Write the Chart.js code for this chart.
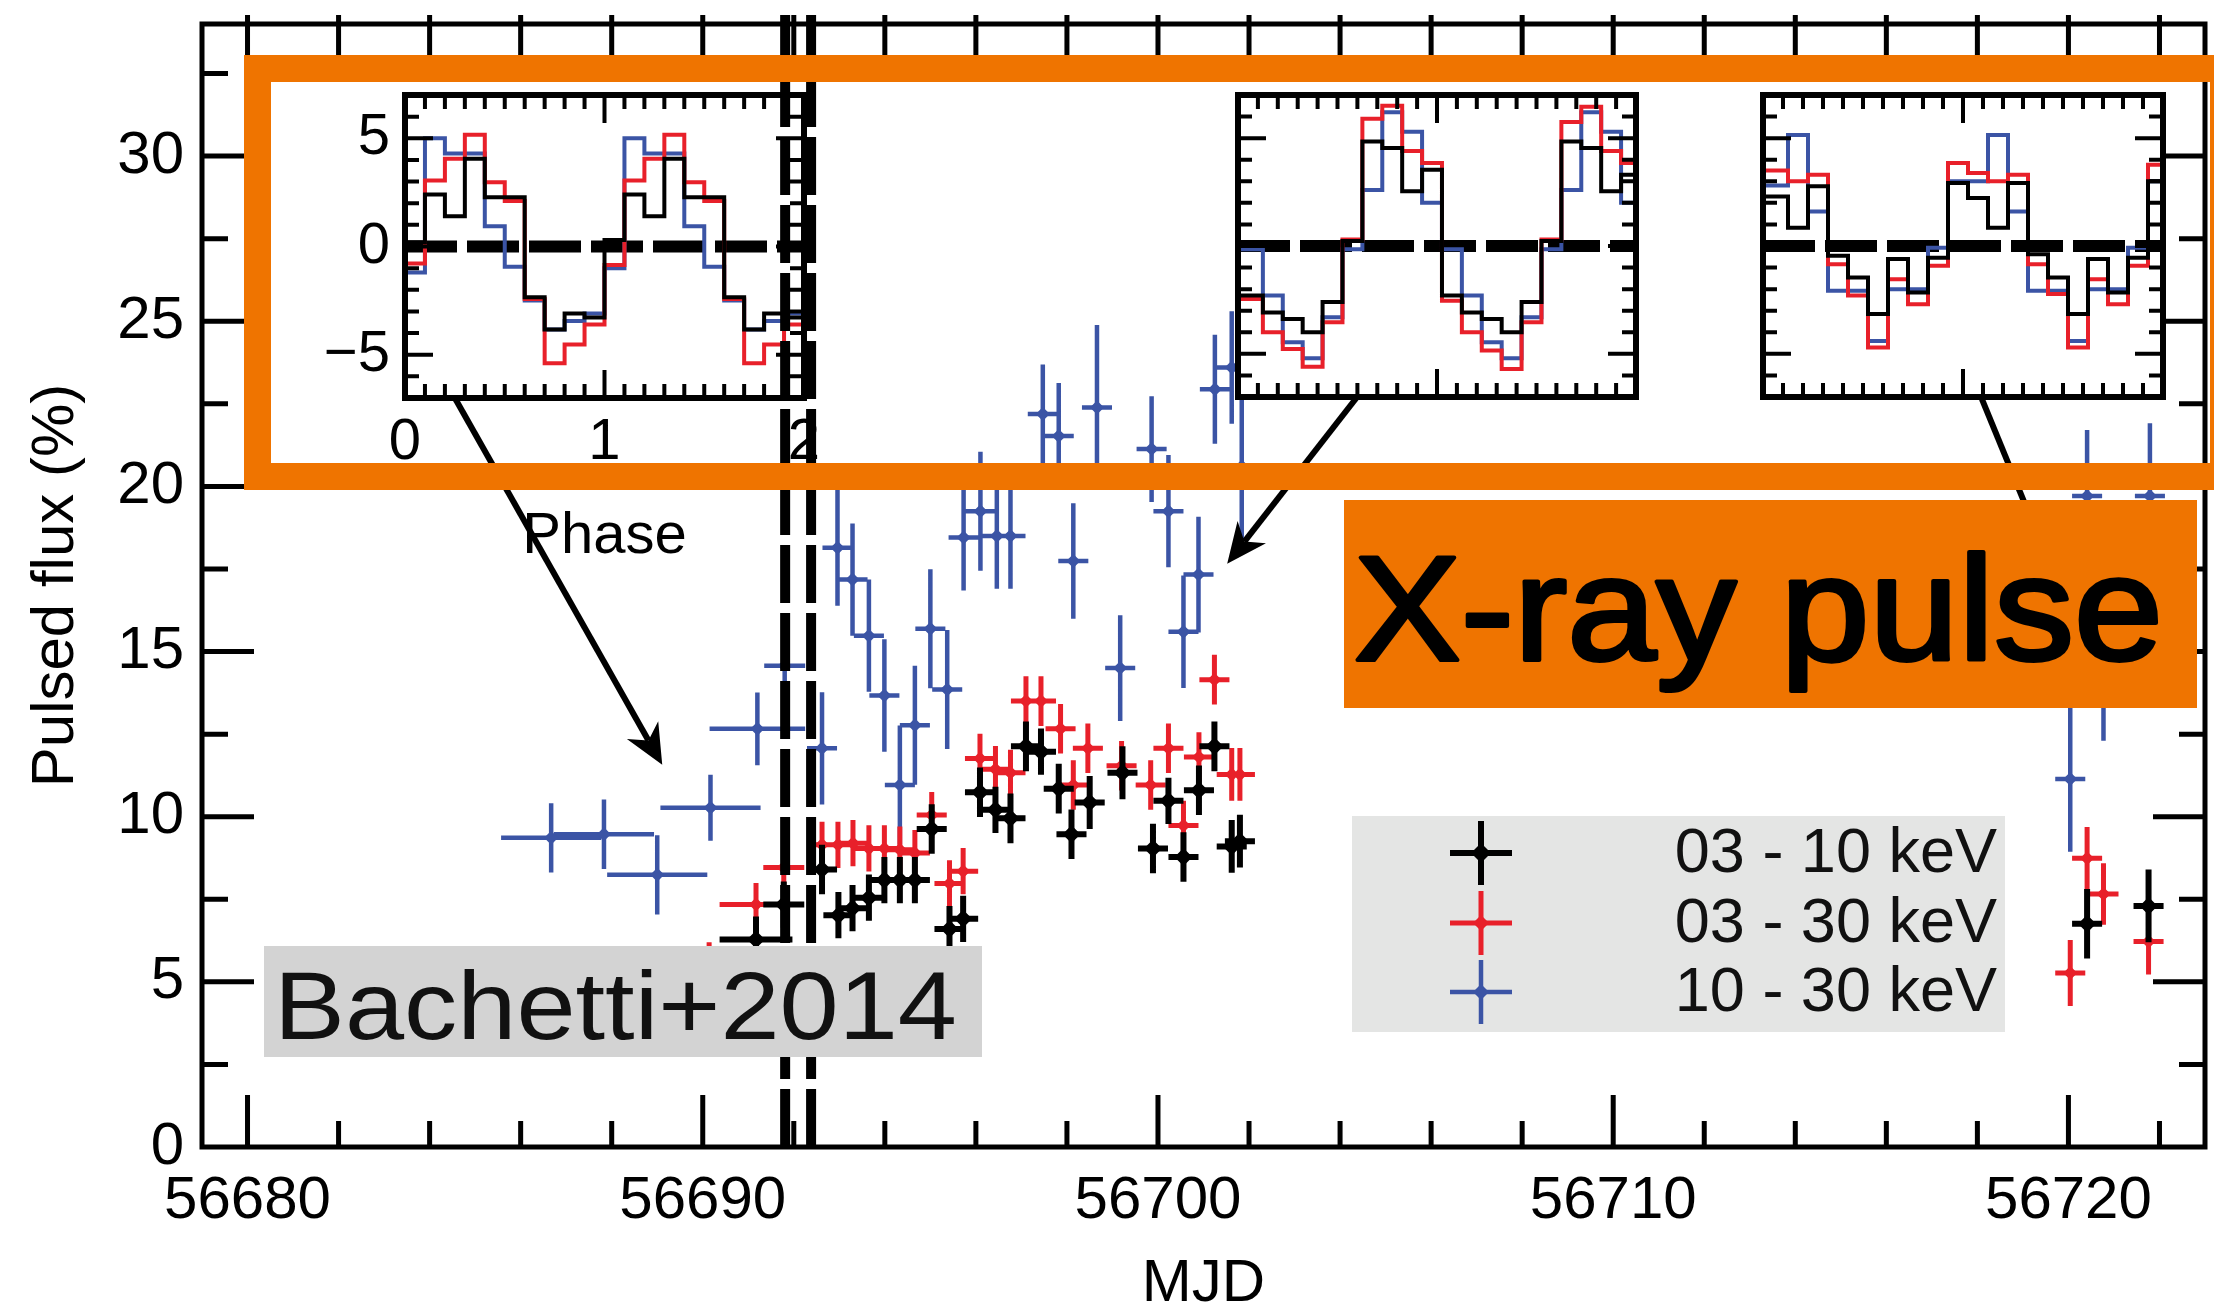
<!DOCTYPE html>
<html>
<head>
<meta charset="utf-8">
<title>Pulsed flux vs MJD</title>
<script src="https://cdn.jsdelivr.net/npm/chart.js@4.4.1/dist/chart.umd.min.js"></script>
<style>
  html, body { margin: 0; padding: 0; background: #fff; }
  #stage { position: relative; width: 2214px; height: 1311px; overflow: hidden; }
  #stage canvas { position: absolute; }
</style>
</head>
<body>
<div id="stage">
  <canvas id="main" width="2214" height="1311" style="left:0;top:0"></canvas>
  <canvas id="inset1" width="560" height="520" style="left:300px;top:60px"></canvas>
  <canvas id="inset2" width="420" height="325" style="left:1228px;top:85px"></canvas>
  <canvas id="inset3" width="420" height="325" style="left:1753px;top:85px"></canvas>
  <canvas id="notes" width="2214" height="1311" style="left:0;top:0"></canvas>
</div>
<script>
const FONT = '"Liberation Sans", Arial, Helvetica, sans-serif';
const BLUE = '#3b54a5';
const RED = '#e8202a';
const BLACK = '#000000';
const ORANGE = '#ef7400';

// ---- light curve: 03 - 10 keV ----
const blackMjd = [56690.14, 56691.17, 56691.78, 56692.62, 56692.98, 56693.29, 56693.65, 56693.99, 56694.33, 56694.66,
  56695.03, 56695.42, 56695.72, 56696.09, 56696.43, 56696.76, 56697.10, 56697.43, 56697.82, 56698.10,
  56698.50, 56699.22, 56699.89, 56700.23, 56700.56, 56700.90, 56701.24, 56701.62, 56701.80, 56720.41, 56721.76];
const blackFlux = [4.9, 6.28, 7.34, 8.40, 7.02, 7.23, 7.55, 8.08, 8.08, 8.08,
  9.63, 6.60, 6.91, 10.74, 10.21, 9.95, 12.13, 11.97, 10.85, 9.47,
  10.43, 11.33, 9.04, 10.48, 8.78, 10.80, 12.13, 9.10, 9.26, 6.76, 7.30];
const blackErr = [0.7, 0.7, 0.7, 0.75, 0.7, 0.7, 0.7, 0.7, 0.7, 0.7,
  0.75, 0.7, 0.7, 0.75, 0.7, 0.75, 0.75, 0.7, 0.75, 0.75,
  0.8, 0.8, 0.75, 0.7, 0.75, 0.75, 0.75, 0.8, 0.8, 1.05, 1.1];
const blackXerr = [0.5, 0.8, 0.45, 0.33, 0.33, 0.33, 0.33, 0.33, 0.33, 0.33,
  0.33, 0.33, 0.33, 0.33, 0.33, 0.33, 0.33, 0.33, 0.33, 0.33,
  0.33, 0.33, 0.33, 0.33, 0.33, 0.33, 0.33, 0.33, 0.33, 0.33, 0.33];

// ---- light curve: 03 - 30 keV ----
const redMjd = [56690.14, 56691.17, 56691.78, 56692.62, 56692.97, 56693.30, 56693.65, 56693.99, 56694.33, 56694.66,
  56695.03, 56695.42, 56695.72, 56696.09, 56696.43, 56696.76, 56697.10, 56697.43, 56697.86, 56698.14,
  56698.46, 56699.20, 56699.84, 56700.23, 56700.56, 56700.90, 56701.24, 56701.62, 56701.80,
  56720.04, 56720.41, 56720.77, 56721.76];
const redFlux = [5.5, 7.34, 8.46, 9.15, 9.15, 9.2, 9.04, 9.04, 9.0, 8.9,
  10.05, 7.98, 8.35, 11.76, 11.44, 11.33, 13.5, 13.5, 12.66, 10.96,
  12.07, 11.54, 10.96, 12.07, 9.73, 11.81, 14.15, 11.28, 11.28,
  5.27, 8.74, 7.66, 6.22];
const redErr = [0.7, 0.65, 0.65, 0.7, 0.7, 0.7, 0.7, 0.7, 0.7, 0.7,
  0.7, 0.7, 0.7, 0.75, 0.7, 0.7, 0.75, 0.75, 0.75, 0.75,
  0.75, 0.75, 0.75, 0.75, 0.75, 0.75, 0.75, 0.8, 0.8,
  1.0, 0.95, 0.93, 1.0];
const redXerr = [0.5, 0.8, 0.45, 0.33, 0.33, 0.33, 0.33, 0.33, 0.33, 0.33,
  0.33, 0.33, 0.33, 0.33, 0.33, 0.33, 0.33, 0.33, 0.33, 0.33,
  0.33, 0.33, 0.33, 0.33, 0.33, 0.33, 0.33, 0.33, 0.33,
  0.33, 0.33, 0.33, 0.33];

// ---- light curve: 10 - 30 keV ----
const blueMjd = [56686.67, 56687.83, 56689.00, 56690.17, 56691.20, 56691.80, 56692.62, 56692.96, 56693.29, 56693.65,
  56693.99, 56694.33, 56694.66, 56695.00, 56695.37, 56695.73, 56696.10, 56696.46, 56696.76, 56697.47,
  56697.82, 56698.14, 56698.66, 56699.17, 56699.86, 56700.23, 56700.56, 56700.89, 56701.25, 56701.62,
  56701.84, 56720.04, 56720.41, 56720.77, 56721.79];
const blueFlux = [9.36, 9.47, 8.24, 10.27, 12.66, 14.57, 12.07, 18.14, 17.18, 15.48,
  13.67, 10.96, 12.77, 15.69, 13.85, 18.45, 19.25, 18.50, 18.50, 22.19,
  21.53, 17.74, 22.39, 14.50, 21.13, 19.25, 15.60, 17.33, 22.94, 23.60,
  20.60, 11.14, 19.71, 15.50, 19.71];
const blueErr = [1.05, 1.05, 1.2, 1.0, 1.1, 1.5, 1.7, 1.75, 1.7, 1.7,
  1.7, 1.8, 1.8, 1.8, 1.8, 1.6, 1.8, 1.6, 1.6, 1.5,
  1.6, 1.75, 2.5, 1.6, 1.6, 1.7, 1.7, 1.75, 1.65, 1.7,
  2.2, 2.2, 2.0, 3.2, 2.2];
const blueXerr = [1.1, 1.1, 1.1, 1.1, 1.05, 0.45, 0.33, 0.33, 0.33, 0.33,
  0.33, 0.33, 0.33, 0.33, 0.33, 0.33, 0.33, 0.33, 0.33, 0.33,
  0.33, 0.33, 0.33, 0.33, 0.33, 0.33, 0.33, 0.33, 0.33, 0.33,
  0.33, 0.33, 0.33, 0.33, 0.33];

const yTickLabels = [0, 5, 10, 15, 20, 25, 30];
const xTickLabels = [56680, 56690, 56700, 56710, 56720];
const bandNames = ['03 - 10 keV', '03 - 30 keV', '10 - 30 keV'];
const eventMjd = [56691.81, 56692.38]; // dashed vertical lines

// ---- pulse profiles (insets), one value per phase bin ----
const phaseEdgesA = [0, 0.1, 0.2, 0.3, 0.4, 0.5, 0.6, 0.7, 0.8, 0.9, 1.0, 1.1, 1.2, 1.3, 1.4, 1.5, 1.6, 1.7, 1.8, 1.9, 2.0];
const phaseEdgesB = [0, 0.125, 0.225, 0.325, 0.425, 0.525, 0.625, 0.725, 0.825, 0.925, 1.025, 1.125, 1.225, 1.325, 1.425, 1.525, 1.625, 1.725, 1.825, 1.925, 2.0];

const prof1Black = [0.2, 2.4, 1.4, 4.06, 2.27, 2.27, -2.34, -3.83, -3.1, -3.28, 0.3, 2.4, 1.4, 4.06, 2.27, 2.27, -2.34, -3.83, -3.1, -3.28];
const prof1Red = [-0.78, 3.05, 4.06, 5.16, 2.97, 2.1, -2.42, -5.4, -4.53, -3.6, -0.86, 3.05, 4.06, 5.16, 2.97, 2.1, -2.42, -5.4, -4.53, -3.6];
const prof1Blue = [-1.2, 5.0, 4.3, 4.3, 0.94, -0.94, -2.5, -3.83, -3.44, -3.1, -1.0, 5.0, 4.3, 4.3, 0.94, -0.94, -2.5, -3.83, -3.44, -3.1];

const prof2Black = [-2.3, -3.08, -3.38, -4.0, -2.6, 0.23, 4.85, 4.54, 2.54, 3.54, -2.3, -3.08, -3.38, -4.0, -2.6, 0.23, 4.85, 4.54, 2.54, 3.3];
const prof2Red = [-2.46, -4.0, -4.77, -5.6, -3.54, 0.3, 5.9, 6.5, 4.4, 3.85, -2.54, -4.0, -4.85, -5.7, -3.54, 0.3, 5.75, 6.45, 4.4, 3.85];
const prof2Blue = [-0.15, -2.3, -4.46, -5.2, -3.3, -0.15, 2.6, 6.2, 5.3, 2.0, -0.15, -2.3, -4.46, -5.2, -3.3, -0.15, 2.6, 6.2, 5.3, 2.0];

const prof3Black = [2.3, 0.85, 2.77, -0.45, -1.46, -3.15, -0.6, -2.15, -0.54, 2.92, 2.23, 0.85, 2.92, -0.38, -1.46, -3.15, -0.6, -2.15, -0.54, 3.0];
const prof3Red = [3.5, 3.0, 3.3, -0.85, -2.3, -4.7, -1.54, -2.7, -0.92, 3.85, 3.38, 3.0, 3.3, -0.85, -2.23, -4.7, -1.54, -2.7, -0.92, 3.77];
const prof3Blue = [2.8, 5.15, 1.6, -2.08, -2.08, -4.4, -2.0, -2.0, -0.08, 3.0, 3.0, 5.15, 1.6, -2.08, -2.08, -4.4, -2.0, -2.0, -0.08, 3.0];

Chart.defaults.font.family = FONT;

function toPoints(xs, ys) {
  return xs.map((x, i) => ({ x: x, y: ys[i] }));
}

function toSteps(edges, vals) {
  // last edge repeats the last bin so the histogram closes at phase 2
  return edges.map((e, i) => ({ x: e, y: vals[Math.min(i, vals.length - 1)] }));
}

// error bars, drawn just under each dataset's markers
const errorBars = {
  id: 'errorBars',
  beforeDatasetDraw(chart, args) {
    const ds = chart.data.datasets[args.index];
    if (!ds.errY) return;
    const { ctx, chartArea: a, scales: { x, y } } = chart;
    ctx.save();
    ctx.beginPath();
    ctx.rect(a.left, a.top, a.right - a.left, a.bottom - a.top);
    ctx.clip();
    ctx.strokeStyle = ds.borderColor;
    ctx.lineWidth = ds.barWidth;
    ctx.beginPath();
    ds.data.forEach((p, i) => {
      const px = x.getPixelForValue(p.x);
      const py = y.getPixelForValue(p.y);
      ctx.moveTo(px, y.getPixelForValue(p.y - ds.errY[i]));
      ctx.lineTo(px, y.getPixelForValue(p.y + ds.errY[i]));
      ctx.moveTo(x.getPixelForValue(p.x - ds.errX[i]), py);
      ctx.lineTo(x.getPixelForValue(p.x + ds.errX[i]), py);
    });
    ctx.stroke();
    ctx.restore();
  }
};

// axes box, inward ticks, labels, legend
const mainFrame = {
  id: 'mainFrame',
  afterDraw(chart) {
    const { ctx, chartArea: a, scales: { x, y } } = chart;
    ctx.save();
    ctx.strokeStyle = '#000';
    ctx.fillStyle = '#000';
    ctx.lineWidth = 5;
    ctx.strokeRect(a.left, a.top, a.right - a.left, a.bottom - a.top);

    ctx.beginPath();
    for (let v = 56680; v <= 56722; v += 2) {
      const px = x.getPixelForValue(v);
      const len = v % 10 === 0 ? 52 : 26;
      ctx.moveTo(px, a.bottom);
      ctx.lineTo(px, a.bottom - len);
      ctx.moveTo(px, a.top - 9);
      ctx.lineTo(px, a.top + 52);
    }
    for (let k = 1; k <= 13; k++) {
      const v = k * 2.5;
      const py = y.getPixelForValue(v);
      const len = k % 2 === 0 ? 52 : 26;
      ctx.moveTo(a.left, py);
      ctx.lineTo(a.left + len, py);
      ctx.moveTo(a.right, py);
      ctx.lineTo(a.right - len, py);
    }
    ctx.stroke();

    ctx.font = '60px ' + FONT;
    ctx.textAlign = 'right';
    ctx.textBaseline = 'middle';
    yTickLabels.forEach(v => ctx.fillText(String(v), a.left - 18, y.getPixelForValue(v)));
    ctx.textAlign = 'center';
    xTickLabels.forEach(v => ctx.fillText(String(v), x.getPixelForValue(v), a.bottom + 54));
    ctx.fillText('MJD', (a.left + a.right) / 2, a.bottom + 137);
    ctx.save();
    ctx.translate(56, (a.top + a.bottom) / 2);
    ctx.rotate(-Math.PI / 2);
    ctx.fillText('Pulsed flux (%)', 0, 0);
    ctx.restore();

    // legend box
    ctx.fillStyle = '#e4e5e4';
    ctx.fillRect(1352, 816, 653, 216);
    const rows = [853, 923, 992];
    chart.data.datasets.forEach((ds, i) => {
      const cy = rows[i];
      ctx.strokeStyle = ds.borderColor;
      ctx.fillStyle = ds.borderColor;
      ctx.lineWidth = ds.barWidth;
      ctx.beginPath();
      ctx.moveTo(1450, cy); ctx.lineTo(1512, cy);
      ctx.moveTo(1481, cy - 32); ctx.lineTo(1481, cy + 32);
      ctx.stroke();
      const r = ds.pointRadius + 1;
      ctx.beginPath();
      ctx.moveTo(1481, cy - r); ctx.lineTo(1481 + r, cy);
      ctx.lineTo(1481, cy + r); ctx.lineTo(1481 - r, cy);
      ctx.closePath();
      ctx.fill();
      ctx.fillStyle = '#111';
      ctx.font = '63px ' + FONT;
      ctx.textAlign = 'right';
      ctx.fillText(bandNames[i], 1997, cy + 2);
    });
    ctx.restore();
  }
};

const mainChart = new Chart(document.getElementById('main'), {
  type: 'scatter',
  data: {
    datasets: [
      { label: bandNames[0], data: toPoints(blackMjd, blackFlux), errY: blackErr, errX: blackXerr, barWidth: 6,
        borderColor: BLACK, backgroundColor: BLACK, pointStyle: 'rectRot', pointRadius: 9, pointBorderWidth: 0 },
      { label: bandNames[1], data: toPoints(redMjd, redFlux), errY: redErr, errX: redXerr, barWidth: 5,
        borderColor: RED, backgroundColor: RED, pointStyle: 'rectRot', pointRadius: 7, pointBorderWidth: 0 },
      { label: bandNames[2], data: toPoints(blueMjd, blueFlux), errY: blueErr, errX: blueXerr, barWidth: 4.5,
        borderColor: BLUE, backgroundColor: BLUE, pointStyle: 'rectRot', pointRadius: 7, pointBorderWidth: 0 }
    ]
  },
  options: {
    responsive: false,
    animation: false,
    devicePixelRatio: 1,
    events: [],
    layout: { padding: { left: 202, right: 7, top: 24, bottom: 164 } },
    scales: {
      x: { type: 'linear', min: 56679, max: 56723, display: false },
      y: { type: 'linear', min: 0, max: 34, display: false }
    },
    plugins: { legend: { display: false }, tooltip: { enabled: false } }
  },
  plugins: [errorBars, mainFrame]
});

// ---- insets ----
const insetFrame = {
  id: 'insetFrame',
  beforeDraw(chart) {
    const { ctx, chartArea: a } = chart;
    ctx.save();
    ctx.fillStyle = '#fff';
    ctx.fillRect(a.left - 3, a.top - 3, a.right - a.left + 6, a.bottom - a.top + 6);
    ctx.restore();
  },
  beforeDatasetsDraw(chart) {
    const { ctx, chartArea: a, scales: { y } } = chart;
    ctx.save();
    ctx.strokeStyle = '#000';
    ctx.lineWidth = 12;
    ctx.setLineDash([52, 10]);
    ctx.beginPath();
    ctx.moveTo(a.left, y.getPixelForValue(0));
    ctx.lineTo(a.right, y.getPixelForValue(0));
    ctx.stroke();
    ctx.restore();
  },
  afterDraw(chart, args, opts) {
    const { ctx, chartArea: a, scales: { x, y } } = chart;
    ctx.save();
    ctx.strokeStyle = '#000';
    ctx.fillStyle = '#000';
    ctx.lineWidth = 4;
    ctx.beginPath();
    for (let k = 1; k <= 19; k++) {
      const px = x.getPixelForValue(k / 10);
      const len = k === 10 ? 28 : 14;
      ctx.moveTo(px, a.top); ctx.lineTo(px, a.top + len);
      ctx.moveTo(px, a.bottom); ctx.lineTo(px, a.bottom - len);
    }
    for (let k = -6; k <= 6; k++) {
      const py = y.getPixelForValue(k);
      const len = (k === 5 || k === -5 || k === 0) ? 28 : 14;
      ctx.moveTo(a.left, py); ctx.lineTo(a.left + len, py);
      ctx.moveTo(a.right, py); ctx.lineTo(a.right - len, py);
    }
    ctx.stroke();
    ctx.lineWidth = 6;
    ctx.strokeRect(a.left, a.top, a.right - a.left, a.bottom - a.top);
    if (opts.labels) {
      ctx.font = '58px ' + FONT;
      ctx.textBaseline = 'middle';
      ctx.textAlign = 'right';
      [[5, '5'], [0, '0'], [-5, '\u22125']].forEach(t => ctx.fillText(t[1], a.left - 15, y.getPixelForValue(t[0])));
      ctx.textAlign = 'center';
      [0, 1, 2].forEach(v => ctx.fillText(String(v), x.getPixelForValue(v), a.bottom + 45));
      ctx.fillText('Phase', x.getPixelForValue(1), a.bottom + 139);
    }
    ctx.restore();
  }
};

function makeInset(id, edges, black, red, blue, padding, labels) {
  const line = (vals, color) => ({
    data: toSteps(edges, vals), stepped: 'before', borderColor: color, borderWidth: 4,
    pointRadius: 0, fill: false, tension: 0
  });
  return new Chart(document.getElementById(id), {
    type: 'line',
    data: { datasets: [line(black, BLACK), line(red, RED), line(blue, BLUE)] },
    options: {
      responsive: false,
      animation: false,
      devicePixelRatio: 1,
      events: [],
      layout: { padding: padding },
      scales: {
        x: { type: 'linear', min: 0, max: 2, display: false },
        y: { type: 'linear', min: -7, max: 7, display: false }
      },
      plugins: { legend: { display: false }, tooltip: { enabled: false }, insetFrame: { labels: labels } }
    },
    plugins: [insetFrame]
  });
}

makeInset('inset1', phaseEdgesA, prof1Black, prof1Red, prof1Blue, { left: 105, right: 56, top: 35, bottom: 182 }, true);
makeInset('inset2', phaseEdgesB, prof2Black, prof2Red, prof2Blue, { left: 10, right: 12, top: 10, bottom: 13 }, false);
makeInset('inset3', phaseEdgesB, prof3Black, prof3Red, prof3Blue, { left: 10, right: 10, top: 10, bottom: 13 }, false);

// ---- annotations on top: dashed lines, arrows, highlight boxes ----
const notes = document.getElementById('notes').getContext('2d');
const mx = mainChart.scales.x;
const my = mainChart.scales.y;
const area = mainChart.chartArea;

notes.save();
notes.strokeStyle = '#000';
notes.lineWidth = 10;
notes.setLineDash([58, 10]);
eventMjd.forEach(t => {
  const px = mx.getPixelForValue(t);
  notes.beginPath();
  notes.moveTo(px, area.bottom);
  notes.lineTo(px, area.top - 9);
  notes.stroke();
});
notes.restore();

function drawArrow(ctx, x0, y0, x1, y1) {
  const ang = Math.atan2(y1 - y0, x1 - x0);
  const c = Math.cos(ang), s = Math.sin(ang);
  const hl = 40, hw = 18;
  ctx.beginPath();
  ctx.moveTo(x0, y0);
  ctx.lineTo(x1 - c * hl * 0.7, y1 - s * hl * 0.7);
  ctx.stroke();
  ctx.beginPath();
  ctx.moveTo(x1, y1);
  ctx.lineTo(x1 - c * hl - s * hw, y1 - s * hl + c * hw);
  ctx.lineTo(x1 - c * hl * 0.7, y1 - s * hl * 0.7);
  ctx.lineTo(x1 - c * hl + s * hw, y1 - s * hl - c * hw);
  ctx.closePath();
  ctx.fill();
}

const arrowSpecs = [
  [56684.57, 22.64, 56689.11, 11.57],
  [56704.37, 22.70, 56701.52, 17.66],
  [56718.10, 22.64, 56719.90, 16.60]
];
notes.save();
notes.strokeStyle = '#000';
notes.fillStyle = '#000';
notes.lineWidth = 6;
arrowSpecs.forEach(a => drawArrow(notes,
  mx.getPixelForValue(a[0]), my.getPixelForValue(a[1]),
  mx.getPixelForValue(a[2]), my.getPixelForValue(a[3])));
notes.restore();

function fitText(ctx, text, x, baseline, width, stroke) {
  const w = ctx.measureText(text).width;
  ctx.save();
  ctx.translate(x, baseline);
  ctx.scale(width / w, 1);
  if (stroke) ctx.strokeText(text, 0, 0);
  ctx.fillText(text, 0, 0);
  ctx.restore();
}

// orange frame round the insets
notes.save();
notes.strokeStyle = ORANGE;
notes.lineWidth = 27;
notes.strokeRect(257.5, 68.5, 1966, 408);

// "X-ray pulse" tag
notes.fillStyle = ORANGE;
notes.fillRect(1344, 500, 853, 208);
notes.fillStyle = '#000';
notes.strokeStyle = '#000';
notes.lineWidth = 4;
notes.lineJoin = 'round';
notes.font = '148px ' + FONT;
notes.textBaseline = 'alphabetic';
fitText(notes, 'X-ray pulse', 1354, 660, 809, true);

// reference tag
notes.fillStyle = '#d3d3d3';
notes.fillRect(264, 946, 718, 111);
notes.fillStyle = '#111';
notes.font = '96px ' + FONT;
fitText(notes, 'Bachetti+2014', 274, 1039, 683, false);
notes.restore();
</script>
</body>
</html>
